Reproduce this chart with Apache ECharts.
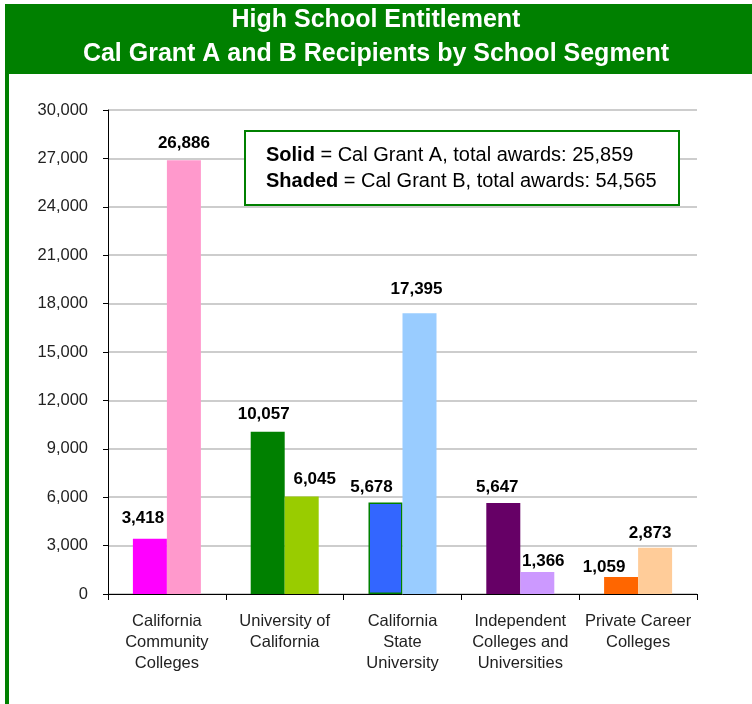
<!DOCTYPE html>
<html>
<head>
<meta charset="utf-8">
<script src="https://cdn.jsdelivr.net/npm/echarts@6/dist/echarts.min.js"></script>
<style>html,body{margin:0;padding:0;background:#fff;}#c{width:752px;height:704px;}</style>
</head>
<body>
<div id="c"></div>
<script>
var categories = ['California\nCommunity\nColleges', 'University of\nCalifornia', 'California\nState\nUniversity', 'Independent\nColleges and\nUniversities', 'Private Career\nColleges'];
var calGrantA = [3418, 10057, 5678, 5647, 1059];
var calGrantB = [26886, 6045, 17395, 1366, 2873];
var colorsA = ['#FF00FF', '#008000', '#3366FF', '#660066', '#FF6600'];
var colorsB = ['#FF99CC', '#99CC00', '#99CCFF', '#CC99FF', '#FFCC99'];
var yTicks = [0, 3000, 6000, 9000, 12000, 15000, 18000, 21000, 24000, 27000, 30000];
var titleLines = ['High School Entitlement', 'Cal Grant A and B Recipients by School Segment'];
var totalA = '25,859';
var totalB = '54,565';
// label nudges (pixels) as placed in the original
var labelShiftA = [[-7,-3],[-4,0],[-14,2],[-6,2],[-17,8]];
var labelShiftB = [[0,1],[13,0],[-3,-7],[6,7],[-5,3]];

var chart = echarts.init(document.getElementById('c'));
function fmt(v){ return v.toLocaleString('en-US'); }
var labelStyle = {show:true, position:'top', distance:9, fontFamily:'Liberation Sans, Arial', fontWeight:'bold', fontSize:17, color:'#000', formatter:function(p){return fmt(p.value);}};
chart.setOption({
  animation:false,
  backgroundColor:'#fff',
  graphic:[
    {type:'rect', left:5, top:4, shape:{width:747, height:70}, style:{fill:'#008000'}, z:0},
    {type:'rect', left:5, top:74, shape:{width:4, height:630}, style:{fill:'#008000'}, z:0},
    {type:'text', left:'center', top:8, style:{text:titleLines[0], fill:'#fff', font:'bold 25px "Liberation Sans", Arial', textAlign:'center'}, z:2},
    {type:'text', left:'center', top:42, style:{text:titleLines[1], fill:'#fff', font:'bold 25px "Liberation Sans", Arial', textAlign:'center'}, z:2},
    {type:'rect', left:244, top:130, shape:{width:434, height:74}, style:{fill:'#fff', stroke:'#008000', lineWidth:2}, z:10},
    {type:'text', left:266, top:142, z:11, style:{
      text:'{b|Solid} = Cal Grant A, total awards: ' + totalA + '\n{b|Shaded} = Cal Grant B, total awards: ' + totalB,
      font:'20px "Liberation Sans", Arial', fill:'#000', lineHeight:26,
      rich:{b:{fontWeight:'bold', fontSize:20, fontFamily:'Liberation Sans, Arial', lineHeight:26}}
    }}
  ],
  grid:{left:108, right:55, top:110, bottom:110},
  xAxis:{
    type:'category', data:categories,
    axisLine:{lineStyle:{color:'#000', width:1}},
    axisTick:{show:true, length:6, lineStyle:{color:'#000'}},
    axisLabel:{fontFamily:'Liberation Sans, Arial', fontSize:16.5, color:'#222', lineHeight:21, margin:17, interval:0}
  },
  yAxis:{
    type:'value', min:0, max:30000, interval:3000,
    axisLine:{show:true, lineStyle:{color:'#000', width:1}},
    axisTick:{show:true, length:5, lineStyle:{color:'#000'}},
    splitLine:{lineStyle:{color:'#BDBDBD', width:1.5}},
    axisLabel:{fontFamily:'Liberation Sans, Arial', fontSize:16.5, color:'#222', margin:20, formatter:function(v){return fmt(v);}}
  },
  series:[
    {type:'bar', name:'Cal Grant A', barWidth:34, barGap:'0%',
      data:calGrantA.map(function(v,i){var d={value:v,itemStyle:{color:colorsA[i]},label:{offset:labelShiftA[i]}}; if(i===2){d.itemStyle.borderColor='#008000';d.itemStyle.borderWidth=1.5;} return d;}),
      label:labelStyle},
    {type:'bar', name:'Cal Grant B', barWidth:34,
      data:calGrantB.map(function(v,i){return {value:v,itemStyle:{color:colorsB[i]},label:{offset:labelShiftB[i]}};}),
      label:labelStyle}
  ]
});
</script>
</body>
</html>
